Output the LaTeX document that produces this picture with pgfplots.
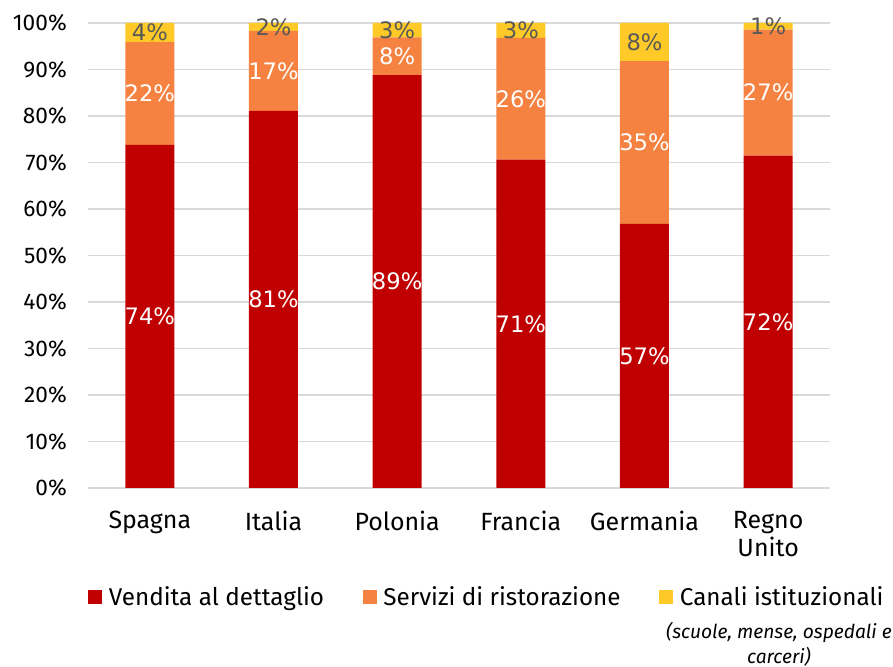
\documentclass[border=0pt]{standalone}
\usepackage{pgfplots}
\pgfplotsset{compat=1.18}
\usepackage{pgfplotstable}
\usepackage{fontspec}
\setmainfont{Fira Sans}
\newfontfamily\dejavu{DejaVu Sans}
\definecolor{cred}{HTML}{C00000}
\definecolor{corange}{HTML}{F58240}
\definecolor{cyellow}{HTML}{FFCA28}
\definecolor{cgray}{HTML}{595959}
\definecolor{cgrid}{HTML}{D9D9D9}
\pgfplotstableread{
x r o y
0 73.8 22.1 4.1
1 81.1 17.2 1.7
2 88.8 8.1 3.1
3 70.6 26.2 3.2
4 56.8 35.0 8.2
5 71.5 27.1 1.4
}\data
\begin{document}
\begin{tikzpicture}
\useasboundingbox (-66pt,-134.25pt) rectangle (603.75pt,366pt);
\begin{axis}[
  at={(0,0)}, anchor=south west,
  scale only axis, width=556.5pt, height=348.75pt,
  clip=false,
  ybar stacked, bar width=36.75pt,
  xmin=-0.5, xmax=5.5, ymin=0, ymax=100,
  xtick={0,1,2,3,4,5},
  xticklabels={Spagna,Italia,Polonia,Francia,Germania,{Regno\\Unito}},
  xticklabel style={align=center, anchor=north, inner sep=0pt, yshift=-17pt,
    font=\fontsize{18.7}{21.5}\selectfont, text=black},
  ytick={0,10,...,100},
  yticklabel={\pgfmathprintnumber{\tick}\%},
  yticklabel style={anchor=east, inner xsep=0pt, xshift=-15.75pt,
    font=\fontsize{17}{20}\selectfont, text=black},
  /pgf/number format/assume math mode=true,
  axis line style={draw=none},
  major tick length=0pt,
  ymajorgrids, grid style={cgrid, line width=1.1pt},
  point meta=explicit,
  nodes near coords={\pgfmathprintnumber[fixed,precision=0]{\pgfplotspointmeta}\%},
  nodes near coords style={font=\dejavu\fontsize{17}{17}\selectfont, anchor=center},
  legend columns=3,
  legend style={at={(rel axis cs:0,-0.2344)}, anchor=west, draw=none, fill=none,
    inner sep=0pt, font=\fontsize{18.2}{22}\selectfont,
    nodes={inner xsep=0pt},
    /tikz/every odd column/.append style={column sep=5pt},
    /tikz/every even column/.append style={column sep=29pt}},
  legend cell align=left,
]
\addplot[fill=cred, draw=none, nodes near coords style={text=white},
  legend image code/.code={\fill[cred] (0pt,-5.25pt) rectangle (10.5pt,5.25pt);}]
  table[x=x, y=r, meta=r] {\data};
\addplot[fill=corange, draw=none, nodes near coords style={text=white},
  legend image code/.code={\fill[corange] (0pt,-5.25pt) rectangle (10.5pt,5.25pt);}]
  table[x=x, y=o, meta=o] {\data};
\addplot[fill=cyellow, draw=none, nodes near coords style={text=cgray},
  legend image code/.code={\fill[cyellow] (0pt,-5.25pt) rectangle (10.5pt,5.25pt);}]
  table[x=x, y=y, meta=y] {\data};
\legend{Vendita al dettaglio, Servizi di ristorazione, Canali istituzionali}
\node[font=\itshape\fontsize{14.4}{18.75}\selectfont, align=center, text=black]
  at (rel axis cs:0.9312,-0.3366) {(scuole, mense, ospedali e\\carceri)};
\end{axis}
\end{tikzpicture}
\end{document}
